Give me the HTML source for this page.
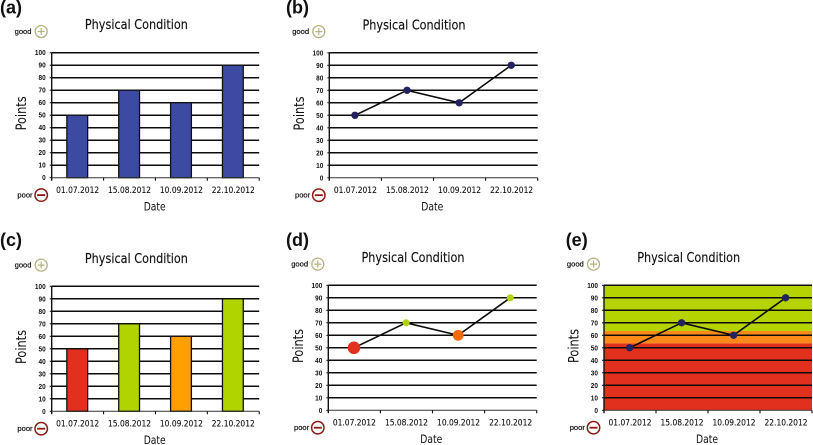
<!DOCTYPE html>
<html lang="en">
<head>
<meta charset="utf-8">
<title>Physical Condition charts</title>
<style>
html,body{margin:0;padding:0;background:#fff;width:813px;height:445px;overflow:hidden}
svg{display:block;filter:blur(0.3px)}
text{fill:#111}
</style>
</head>
<body>
<svg id="figure" xmlns="http://www.w3.org/2000/svg" width="813" height="445" viewBox="0 0 813 445"></svg>
<script>
const categories = ['01.07.2012', '15.08.2012', '10.09.2012', '22.10.2012'];
const pointValues = [50, 70, 60, 90];
const yTicks = [0, 10, 20, 30, 40, 50, 60, 70, 80, 90, 100];
const zoneBreaks = [53.5, 63.5];
const yMax = 100;

const SVG_NS = 'http://www.w3.org/2000/svg';
const figure = document.getElementById('figure');

const panels = [
  { id: 'a', kind: 'bar',  left: 51.7,  top: 52.7,  width: 207.5, labelX: 0,     labelY: 13.5 },
  { id: 'b', kind: 'line', left: 329.3, top: 52.8,  width: 208.4, labelX: 286,   labelY: 13.5 },
  { id: 'c', kind: 'zonebar', left: 51.7, top: 286.3, width: 207.5, labelX: 0,   labelY: 246 },
  { id: 'd', kind: 'zoneline', left: 328.3, top: 285.3, width: 208.4, labelX: 286, labelY: 246 },
  { id: 'e', kind: 'band', left: 604,   top: 285.3, width: 208,   labelX: 565.7, labelY: 246 }
];
const plotHeight = 125;
const zoneColors = {
  c: ['#e2301f', '#ff9f00', '#b0d400'],
  d: ['#e2301f', '#f26a00', '#b0d400'],
  e: ['#e2301f', '#fb8a1a', '#b4d300']
};
const zoneRadii = [6.3, 5.4, 3.5];

function add(parent, tag, attrs, name, text) {
  const el = document.createElementNS(SVG_NS, tag);
  for (const k in attrs) el.setAttribute(k, attrs[k]);
  
  
  if (text !== undefined) el.textContent = text;
  parent.appendChild(el);
  return el;
}

function zoneIndex(v) {
  if (v < zoneBreaks[0]) return 0;
  if (v < zoneBreaks[1]) return 1;
  return 2;
}

function drawPanel(p) {
  const g = add(figure, 'g', {}, 'chart-panel-' + p.id);
  const yScale = v => p.top + plotHeight - (v / yMax) * plotHeight;
  const slot = p.width / categories.length;
  const xCenter = i => p.left + slot * (i + 0.5) - 0.4;
  const bottom = yScale(0);

  add(g, 'text', { x: p.labelX, y: p.labelY, 'font-family': '"Liberation Sans",sans-serif', 'font-size': 18, 'font-weight': 'bold' }, 'panel-label', '(' + p.id + ')');
  add(g, 'text', { x: p.left + 84.7, y: p.top - 23.5, 'text-anchor': 'middle', 'font-family': '"DejaVu Sans",sans-serif', 'font-size': 13, textLength: 103, lengthAdjust: 'spacingAndGlyphs', stroke: '#111', 'stroke-width': 0.15 }, 'chart-title', 'Physical Condition');

  // rating icons
  const gx = p.left - 10.5, gy = p.top - 21.2;
  add(g, 'text', { x: gx - 9.7, y: gy + 2.4, 'text-anchor': 'end', 'font-family': '"Liberation Sans",sans-serif', 'font-size': 7.6, stroke: '#111', 'stroke-width': 0.2 }, 'good-label', 'good');
  add(g, 'circle', { cx: gx, cy: gy, r: 6, fill: '#fff', stroke: '#b5b27f', 'stroke-width': 1.3 }, 'good-icon');
  add(g, 'path', { d: `M${gx - 3.5} ${gy}H${gx + 3.5}M${gx} ${gy - 3.5}V${gy + 3.5}`, stroke: '#b5b27f', 'stroke-width': 1.2, fill: 'none' }, 'good-plus');
  const py = bottom + 17.4;
  add(g, 'text', { x: gx - 8.6, y: py + 2.4, 'text-anchor': 'end', 'font-family': '"Liberation Sans",sans-serif', 'font-size': 7.6, stroke: '#111', 'stroke-width': 0.2 }, 'poor-label', 'poor');
  add(g, 'circle', { cx: gx, cy: py, r: 6.2, fill: '#fff', stroke: '#8b1a14', 'stroke-width': 1.5 }, 'poor-icon');
  add(g, 'path', { d: `M${gx - 4} ${py}H${gx + 4}`, stroke: '#8b1a14', 'stroke-width': 1.8, fill: 'none' }, 'poor-minus');

  // background bands
  if (p.kind === 'band') {
    const edges = [0, zoneBreaks[0], zoneBreaks[1], yMax];
    const names = ['zone-poor', 'zone-medium', 'zone-good'];
    zoneColors.e.forEach((color, i) => {
      add(g, 'rect', { x: p.left, y: yScale(edges[i + 1]), width: p.width, height: yScale(edges[i]) - yScale(edges[i + 1]), fill: color }, names[i]);
    });
  }

  // gridlines
  yTicks.forEach(t => {
    if (t === 0) return;
    add(g, 'line', { x1: p.left, x2: p.left + p.width, y1: yScale(t), y2: yScale(t), stroke: '#0c0c0c', 'stroke-width': 1.5 }, 'gridline-' + t);
  });

  // bars
  if (p.kind === 'bar' || p.kind === 'zonebar') {
    pointValues.forEach((v, i) => {
      const fill = p.kind === 'bar' ? '#3c4aa4' : zoneColors.c[zoneIndex(v)];
      add(g, 'rect', { x: xCenter(i) - 10.4, y: yScale(v), width: 20.8, height: bottom - yScale(v), fill, stroke: '#111', 'stroke-width': 1.3 }, 'bar-' + categories[i]);
    });
  }

  // axes
  add(g, 'line', { x1: p.left, x2: p.left, y1: p.top, y2: bottom + 3, stroke: '#111', 'stroke-width': 1.4 }, 'y-axis');
  add(g, 'line', { x1: p.left, x2: p.left + p.width, y1: bottom, y2: bottom, stroke: '#333', 'stroke-width': 1 }, 'x-axis');
  categories.forEach((c, i) => {
    const tx = p.left + slot * (i + 1);
    add(g, 'line', { x1: tx, x2: tx, y1: bottom, y2: bottom + 3, stroke: '#111', 'stroke-width': 1.1 }, 'x-tick');
  });

  // y tick labels
  yTicks.forEach(t => {
    add(g, 'line', { x1: p.left - 2, x2: p.left, y1: yScale(t), y2: yScale(t), stroke: '#111', 'stroke-width': 1 }, 'y-tick');
    add(g, 'text', { x: p.left - 6, y: yScale(t) + 2.5, 'text-anchor': 'end', 'font-family': '"Liberation Sans",sans-serif', 'font-size': 7, 'font-weight': 'bold', textLength: String(t).length * 3.6, lengthAdjust: 'spacingAndGlyphs' }, 'y-tick-label', String(t));
  });

  // x labels
  categories.forEach((c, i) => {
    add(g, 'text', { x: p.left + slot * (i + 0.5), y: bottom + 15.2, 'text-anchor': 'middle', 'font-family': '"DejaVu Sans",sans-serif', 'font-size': 9, textLength: 43, lengthAdjust: 'spacingAndGlyphs', stroke: '#111', 'stroke-width': 0.12 }, 'x-tick-label', c);
  });

  add(g, 'text', { x: p.left + 103, y: bottom + 32.8, 'text-anchor': 'middle', 'font-family': '"DejaVu Sans",sans-serif', 'font-size': 11.5, textLength: 22, lengthAdjust: 'spacingAndGlyphs' }, 'x-axis-title', 'Date');
  const ax = p.left - 25.5, ay = p.top + 60.7;
  add(g, 'text', { x: ax, y: ay, 'text-anchor': 'middle', transform: `rotate(-90 ${ax} ${ay})`, 'font-family': '"DejaVu Sans",sans-serif', 'font-size': 14, textLength: 34, lengthAdjust: 'spacingAndGlyphs' }, 'y-axis-title', 'Points');

  // line and markers
  if (p.kind === 'line' || p.kind === 'zoneline' || p.kind === 'band') {
    const d = pointValues.map((v, i) => (i ? 'L' : 'M') + xCenter(i) + ' ' + yScale(v)).join('');
    add(g, 'path', { d, fill: 'none', stroke: '#0c0c0c', 'stroke-width': 1.6 }, 'series-line');
    pointValues.forEach((v, i) => {
      const z = zoneIndex(v);
      const zoned = p.kind === 'zoneline';
      add(g, 'circle', {
        cx: xCenter(i), cy: yScale(v),
        r: zoned ? zoneRadii[z] : 3.7,
        fill: zoned ? zoneColors.d[z] : '#24235f'
      }, 'point-' + categories[i]);
    });
  }
}

panels.forEach(drawPanel);
</script>
</body>
</html>
